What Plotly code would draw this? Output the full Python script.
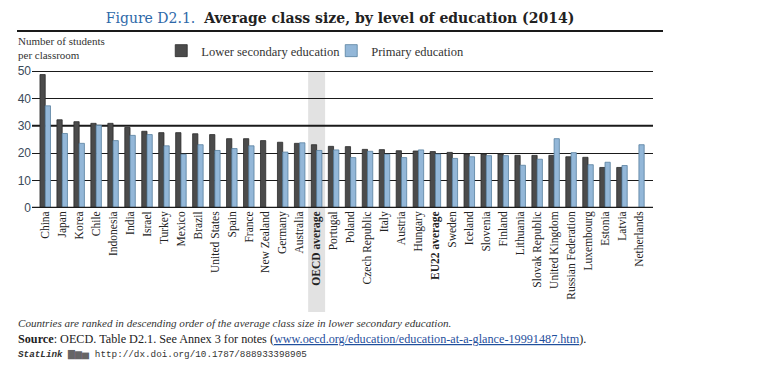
import plotly.graph_objects as go

countries = ["China", "Japan", "Korea", "Chile", "Indonesia", "India", "Israel", "Turkey",
             "Mexico", "Brazil", "United States", "Spain", "France", "New Zealand", "Germany",
             "Australia", "OECD average", "Portugal", "Poland", "Czech Republic", "Italy",
             "Austria", "Hungary", "EU22 average", "Sweden", "Iceland", "Slovenia", "Finland",
             "Lithuania", "Slovak Republic", "United Kingdom", "Russian Federation",
             "Luxembourg", "Estonia", "Latvia", "Netherlands"]
lower_secondary = [48.7, 32.2, 31.5, 30.9, 30.9, 29.4, 28.0, 27.5, 27.5, 27.1, 26.8, 25.3,
                   25.3, 24.6, 24.0, 23.6, 23.1, 22.5, 22.4, 21.4, 21.3, 20.9, 20.8, 20.6,
                   20.3, 19.7, 19.7, 19.7, 19.2, 19.2, 19.2, 18.7, 18.5, 14.8, 14.8, None]
primary = [37.3, 27.2, 23.6, 30.2, 24.6, 26.5, 26.8, 22.7, 19.6, 23.1, 21.0, 21.7,
           22.7, None, 20.4, 23.8, 21.0, 21.2, 18.4, 20.7, 19.6, 18.4, 21.2, 19.7,
           18.1, 18.7, 19.1, 19.1, 15.6, 17.8, 25.3, 20.2, 15.8, 16.7, 15.5, 23.1]
y_ticks = [0, 10, 20, 30, 40, 50]
highlight = ["OECD average", "EU22 average"]

x_idx = list(range(len(countries)))
tick_text = [f"<b>{c}</b>" if c in highlight else c for c in countries]

# plot area geometry in pixels (for converting page positions of decorations)
L, R, T, B = 32, 653, 71, 208
def px(xp):
    return (xp - L) / (R - L)
def py(yp):
    return (B - yp) / (B - T)

serif = "Liberation Serif"
fig = go.Figure()
fig.add_trace(go.Bar(x=x_idx, y=lower_secondary, name="Lower secondary education",
                     marker=dict(color="#4b4b4b", line=dict(color="#2b2b2b", width=0.8))))
fig.add_trace(go.Bar(x=x_idx, y=primary, name="Primary education",
                     marker=dict(color="#93b7d8", line=dict(color="#58809f", width=0.8))))

oecd_i = countries.index("OECD average")
fig.add_shape(type="rect", xref="x", yref="paper", x0=oecd_i - 0.5, x1=oecd_i + 0.5,
              y0=py(312), y1=1.0, fillcolor="#e2e2e2", line=dict(width=0), layer="below")
for yv in [30, 50]:
    fig.add_shape(type="line", xref="paper", yref="y", x0=0, x1=1, y0=yv, y1=yv,
                  line=dict(color="#1a1a1a", width=2), layer="below")
fig.add_shape(type="line", xref="paper", yref="y", x0=0, x1=1, y0=0, y1=0,
              line=dict(color="#1a1a1a", width=2.5), layer="above")
# rule under title
fig.add_shape(type="line", xref="paper", yref="paper", x0=px(17), x1=px(663), y0=py(31), y1=py(31),
              line=dict(color="#1a1a1a", width=2))

fig.update_layout(
    width=757, height=383,
    margin=dict(l=L, r=757 - R, t=T, b=383 - B, autoexpand=False),
    paper_bgcolor="white", plot_bgcolor="white",
    barmode="group", bargap=0.38, bargroupgap=0.0,
    font=dict(family=serif, color="#222"),
    title=dict(text="<span style='color:#2d68a8'>Figure D2.1.</span>  <b>Average class size, by level of education (2014)</b>",
               xref="container", yref="container", x=340 / 757, y=1 - 18 / 383, xanchor="center", yanchor="middle",
               font=dict(family="DejaVu Serif", size=14, color="#222")),
    legend=dict(orientation="h", xref="container", yref="container", x=0.213, y=1 - 51 / 383,
                xanchor="left", yanchor="middle", font=dict(family=serif, size=12.5, color="#333"),
                itemwidth=30, tracegroupgap=0, bgcolor="rgba(0,0,0,0)",
                entrywidth=125, entrywidthmode="pixels"),
    xaxis=dict(tickmode="array", tickvals=x_idx, ticktext=tick_text, tickangle=-90,
               range=[-0.78, 35.83], showgrid=False, showline=False, ticks="", automargin=False,
               tickfont=dict(family=serif, size=11.5, color="#222")),
    yaxis=dict(range=[0, 50], tickvals=y_ticks, showgrid=True, gridcolor="#1a1a1a", gridwidth=1,
               zeroline=False, showline=False, ticks="", automargin=False,
               tickfont=dict(family="Liberation Sans", size=12, color="#3a4a5a")),
    annotations=[
        dict(text="Number of students<br>per classroom", xref="paper", yref="paper",
             x=px(16), y=py(63), xanchor="left", yanchor="bottom", align="left", showarrow=False,
             font=dict(family=serif, size=11, color="#333")),
        dict(text="<i>Countries are ranked in descending order of the average class size in lower secondary education.</i>",
             xref="paper", yref="paper", x=px(16), y=py(323), xanchor="left", yanchor="middle",
             showarrow=False, font=dict(family=serif, size=11.1, color="#333")),
        dict(text="<b>Source</b>: OECD. Table D2.1. See Annex 3 for notes (<span style='color:#1f4f9c'><u>www.oecd.org/education/education-at-a-glance-19991487.htm</u></span>).",
             xref="paper", yref="paper", x=px(16), y=py(339), xanchor="left", yanchor="middle",
             showarrow=False, font=dict(family=serif, size=12.2, color="#222")),
        dict(text="<b><i>StatLink</i></b> <span style='color:#666'>▇▆▅</span> http://dx.doi.org/10.1787/888933398905",
             xref="paper", yref="paper", x=px(16), y=py(355), xanchor="left", yanchor="middle",
             showarrow=False, font=dict(family="Liberation Mono", size=9.3, color="#333")),
    ],
)

fig.write_html("out.html", config={"displayModeBar": False},
               post_script="document.body.style.margin='0';")
